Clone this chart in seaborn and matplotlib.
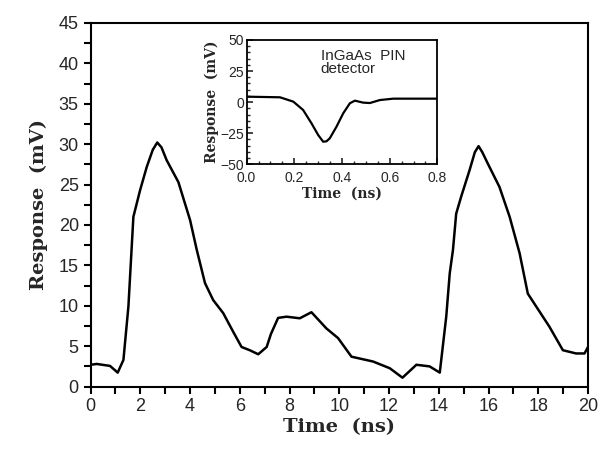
import numpy as np
import pandas as pd
import seaborn as sns
import matplotlib.pyplot as plt
from matplotlib.ticker import MultipleLocator, FuncFormatter

# main trace
t_main = [0, 0.25, 0.78, 1.09, 1.32, 1.52, 1.72, 1.99, 2.26, 2.50, 2.68, 2.85, 3.06, 3.53,
          4.0, 4.27, 4.6, 4.93, 5.33, 5.73, 6.07, 6.4, 6.74, 7.08, 7.25, 7.54,
          7.88, 8.41, 8.88, 9.48, 9.95, 10.49, 11.36, 12.03, 12.54, 13.1, 13.63,
          14.04, 14.3, 14.44, 14.57, 14.7, 14.9, 15.24, 15.45, 15.6, 15.75, 15.97, 16.44,
          16.85, 17.25, 17.58, 17.92, 18.45, 18.99, 19.52, 19.86, 20]
v_main = [2.7, 2.8, 2.56, 1.73, 3.3, 9.9, 21, 24.3, 27.2, 29.3, 30.2, 29.6, 28, 25.3,
          20.6, 16.9, 12.8, 10.7, 9.1, 6.8, 4.9, 4.5, 4.0, 4.9, 6.5, 8.5,
          8.65, 8.45, 9.2, 7.2, 6.0, 3.7, 3.1, 2.27, 1.1, 2.7, 2.5,
          1.73, 8.65, 14, 16.9, 21.4, 23.5, 26.8, 29.0, 29.75, 29.0, 27.6, 24.7,
          21, 16.5, 11.5, 9.9, 7.4, 4.5, 4.1, 4.1, 4.9]

# inset trace
t_inset = [0, 0.14, 0.196, 0.237, 0.272, 0.30, 0.321, 0.335, 0.349, 0.377, 0.405,
           0.433, 0.454, 0.489, 0.517, 0.559, 0.615, 0.698, 0.796]
v_inset = [4.4, 3.9, 0.4, -6.3, -17, -26.4, -31.8, -31.5, -29, -19.7, -9,
           -0.9, 1.2, -0.4, -0.7, 1.7, 2.8, 2.8, 2.8]

main_df = pd.DataFrame({"t": t_main, "v": v_main})
inset_df = pd.DataFrame({"t": t_inset, "v": v_inset})

sns.set_style("ticks")
plt.rcParams['font.family'] = ['Liberation Sans', 'DejaVu Sans']
serif = ['DejaVu Serif']

fig = plt.figure(figsize=(6, 4.49), dpi=100)
ax = fig.add_axes([0.151, 0.139, 0.829, 0.810])

sns.lineplot(data=main_df, x="t", y="v", ax=ax, color="black", linewidth=1.8)
ax.set_xlim(0, 20)
ax.set_ylim(0, 45)
ax.xaxis.set_major_locator(MultipleLocator(2))
ax.xaxis.set_minor_locator(MultipleLocator(1))
ax.yaxis.set_major_locator(MultipleLocator(5))
ax.yaxis.set_minor_locator(MultipleLocator(2.5))
ax.tick_params(which='both', direction='out', length=5, width=1.5,
               labelsize=13, color='black')
for s in ax.spines.values():
    s.set_linewidth(1.5)
    s.set_color('black')
ax.set_xlabel("Time  (ns)", fontsize=14, fontweight='bold', family=serif, labelpad=2)
ax.set_ylabel("Response  (mV)", fontsize=14, fontweight='bold', family=serif, labelpad=8)

# inset
ins = fig.add_axes([0.411, 0.634, 0.318, 0.277])
sns.lineplot(data=inset_df, x="t", y="v", ax=ins, color="black", linewidth=1.6)
ins.set_xticks([0, 0.2, 0.4, 0.6, 0.8])
ins.set_yticks([-50, -25, 0, 25, 50])
ins.set_xlim(0, 0.8)
ins.set_ylim(-50, 50)
ins.xaxis.set_minor_locator(MultipleLocator(0.05))
ins.yaxis.set_minor_locator(MultipleLocator(5))
ins.xaxis.set_major_formatter(FuncFormatter(lambda x, p: f"{x:.1f}"))
ins.yaxis.set_major_formatter(FuncFormatter(lambda y, p: f"{y:.0f}".replace("-", "\u2212")))
ins.tick_params(which='major', direction='in', length=4, width=1.2, labelsize=10)
ins.tick_params(axis='x', which='major', pad=5)
ins.tick_params(axis='y', which='major', pad=2)
ins.tick_params(which='minor', direction='in', length=2, width=1)
for s in ins.spines.values():
    s.set_linewidth(1.3)
    s.set_color('black')
ins.set_xlabel("Time  (ns)", fontsize=10, fontweight='bold', family=serif, labelpad=1)
ins.set_ylabel("Response  (mV)", fontsize=10, fontweight='bold', family=serif, labelpad=1)
ins.text(0.31, 43, "InGaAs  PIN\ndetector", fontsize=11, va='top', ha='left',
         linespacing=0.95)

fig.savefig("out.png", dpi=100)
